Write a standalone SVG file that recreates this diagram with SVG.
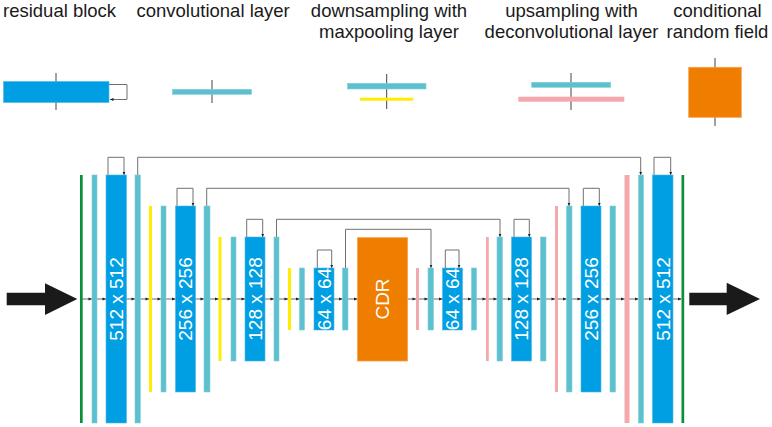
<svg xmlns="http://www.w3.org/2000/svg" width="772" height="427" viewBox="0 0 772 427">
<defs>
<marker id="ah" markerWidth="4" markerHeight="4" refX="3.5" refY="2" orient="auto" markerUnits="userSpaceOnUse">
<path d="M0,0.4 L3.5,2 L0,3.6 Z" fill="#222"/>
</marker>
</defs>
<style>
.t{font-family:"Liberation Sans",Arial,sans-serif;font-size:18.5px;fill:#1a1a1a}
.lbl{font-family:"Liberation Sans",Arial,sans-serif;font-size:19px;fill:#fff}
.res{fill:#009FE3;stroke:#4cb8ea;stroke-width:0.6}
.conv{fill:#5CC0CE;stroke:#7fcfda;stroke-width:0.6}
.yel{fill:#FFED00}
.pink{fill:#F4A8AE}
.grn{fill:#0A8F3C}
.crf{fill:#EF7D00;stroke:#f5a050;stroke-width:0.8}
.loop{fill:none;stroke:#707070;stroke-width:1}
.skip{fill:none;stroke:#707070;stroke-width:1}
.tick{stroke:#444;stroke-width:1}
.axis{stroke:#444;stroke-width:0.8}
</style>

<!-- Legend -->
<g id="legend-residual">
<text class="t" x="3" y="17">residual block</text>
<line class="tick" x1="56" y1="73" x2="56" y2="110"/>
<rect class="res" x="3.5" y="81.5" width="105.5" height="21"/>
<path class="loop" d="M109,84.5 H127 V99.5 H110" marker-end="url(#ah)"/>
</g>
<g id="legend-conv">
<text class="t" x="136.5" y="17">convolutional layer</text>
<line class="tick" x1="212" y1="80" x2="212" y2="103"/>
<rect class="conv" x="172.5" y="89.3" width="79" height="5"/>
</g>
<g id="legend-down">
<text class="t" x="389" y="17" text-anchor="middle">downsampling with</text>
<text class="t" x="389" y="38" text-anchor="middle">maxpooling layer</text>
<line class="tick" x1="386.7" y1="74" x2="386.7" y2="109"/>
<rect class="conv" x="347.5" y="83.3" width="78.5" height="5.7"/>
<rect class="yel" x="360" y="97.7" width="53.3" height="3"/>
</g>
<g id="legend-up">
<text class="t" x="571.5" y="17" text-anchor="middle">upsampling with</text>
<text class="t" x="571.5" y="38" text-anchor="middle">deconvolutional layer</text>
<line class="tick" x1="571" y1="73" x2="571" y2="110"/>
<rect class="conv" x="531.7" y="82.3" width="79" height="5"/>
<rect class="pink" x="518.3" y="96.7" width="106" height="5"/>
</g>
<g id="legend-crf">
<text class="t" x="717.5" y="17" text-anchor="middle">conditional</text>
<text class="t" x="717.5" y="38" text-anchor="middle">random field</text>
<line class="tick" x1="715" y1="58" x2="715" y2="126"/>
<rect class="crf" x="688.7" y="67.3" width="52.6" height="50"/>
</g>

<!-- Connectors -->
<g id="connectors">
<line class="axis" x1="82" y1="299" x2="681" y2="299"/>
<g fill="#222">
<path d="M92,299 l-3.5,-1.6 v3.2 Z"/>
<path d="M106,299 l-3.5,-1.6 v3.2 Z"/>
<path d="M135,299 l-3.5,-1.6 v3.2 Z"/>
<path d="M149,299 l-3.5,-1.6 v3.2 Z"/>
<path d="M161,299 l-3.5,-1.6 v3.2 Z"/>
<path d="M175.5,299 l-3.5,-1.6 v3.2 Z"/>
<path d="M204,299 l-3.5,-1.6 v3.2 Z"/>
<path d="M218.5,299 l-3.5,-1.6 v3.2 Z"/>
<path d="M231,299 l-3.5,-1.6 v3.2 Z"/>
<path d="M245,299 l-3.5,-1.6 v3.2 Z"/>
<path d="M274,299 l-3.5,-1.6 v3.2 Z"/>
<path d="M288,299 l-3.5,-1.6 v3.2 Z"/>
<path d="M299.5,299 l-3.5,-1.6 v3.2 Z"/>
<path d="M314,299 l-3.5,-1.6 v3.2 Z"/>
<path d="M342.5,299 l-3.5,-1.6 v3.2 Z"/>
<path d="M357.5,299 l-3.5,-1.6 v3.2 Z"/>
<path d="M416,299 l-3.5,-1.6 v3.2 Z"/>
<path d="M428,299 l-3.5,-1.6 v3.2 Z"/>
<path d="M442.5,299 l-3.5,-1.6 v3.2 Z"/>
<path d="M471.5,299 l-3.5,-1.6 v3.2 Z"/>
<path d="M486,299 l-3.5,-1.6 v3.2 Z"/>
<path d="M497,299 l-3.5,-1.6 v3.2 Z"/>
<path d="M511.5,299 l-3.5,-1.6 v3.2 Z"/>
<path d="M540.5,299 l-3.5,-1.6 v3.2 Z"/>
<path d="M555,299 l-3.5,-1.6 v3.2 Z"/>
<path d="M566.5,299 l-3.5,-1.6 v3.2 Z"/>
<path d="M581,299 l-3.5,-1.6 v3.2 Z"/>
<path d="M610,299 l-3.5,-1.6 v3.2 Z"/>
<path d="M624.5,299 l-3.5,-1.6 v3.2 Z"/>
<path d="M638.5,299 l-3.5,-1.6 v3.2 Z"/>
<path d="M652.5,299 l-3.5,-1.6 v3.2 Z"/>
<path d="M681.5,299 l-3.5,-1.6 v3.2 Z"/>
</g>
<!-- residual loops -->
<path class="loop" d="M108,175 V157.3 H124 V175" marker-end="url(#ah)"/>
<path class="loop" d="M177,206 V188.3 H193 V206" marker-end="url(#ah)"/>
<path class="loop" d="M246.7,237 V219.3 H262.7 V237" marker-end="url(#ah)"/>
<path class="loop" d="M317.3,268 V250 H331.7 V268" marker-end="url(#ah)"/>
<path class="loop" d="M445.3,268 V250 H459 V268" marker-end="url(#ah)"/>
<path class="loop" d="M514,237 V219.3 H529.3 V237" marker-end="url(#ah)"/>
<path class="loop" d="M583.3,206 V188.3 H599.3 V206" marker-end="url(#ah)"/>
<path class="loop" d="M654,175 V157.3 H670.7 V175" marker-end="url(#ah)"/>
<!-- skip connections -->
<path class="skip" d="M137.7,175 V157.3 H640.7 V175" marker-end="url(#ah)"/>
<path class="skip" d="M206.7,206 V188.3 H569 V206" marker-end="url(#ah)"/>
<path class="skip" d="M276.5,237 V219.3 H500 V237" marker-end="url(#ah)"/>
<path class="skip" d="M345.5,268 V229.3 H431 V268" marker-end="url(#ah)"/>
</g>

<!-- Input / output arrows -->
<g id="input-arrow">
<path d="M6.7,292.7 H45 V283.3 L77.3,299 L45,315 V305.3 H6.7 Z" fill="#1a1a1a"/>
</g>
<g id="output-arrow">
<path d="M689.3,292.7 H726.7 V282.7 L760,299 L726.7,315 V305.3 H689.3 Z" fill="#1a1a1a"/>
</g>

<!-- Encoder -->
<g id="in-green"><rect class="grn" x="80" y="175" width="2.7" height="248"/></g>
<g id="conv1"><rect class="conv" x="92" y="175" width="5" height="248"/></g>
<g id="res512a"><rect class="res" x="106" y="175" width="20.5" height="248"/><text class="lbl" transform="translate(123,299) rotate(-90)" text-anchor="middle">512 x 512</text></g>
<g id="conv2"><rect class="conv" x="135" y="175" width="5.3" height="248"/></g>
<g id="down1"><rect class="yel" x="149" y="206" width="3" height="186"/></g>
<g id="conv3"><rect class="conv" x="161" y="206" width="5" height="186"/></g>
<g id="res256a"><rect class="res" x="175.5" y="206" width="20" height="186"/><text class="lbl" transform="translate(192.2,299) rotate(-90)" text-anchor="middle">256 x 256</text></g>
<g id="conv4"><rect class="conv" x="204" y="206" width="6" height="186"/></g>
<g id="down2"><rect class="yel" x="218.5" y="237" width="3" height="124"/></g>
<g id="conv5"><rect class="conv" x="231" y="237" width="5" height="124"/></g>
<g id="res128a"><rect class="res" x="245" y="237" width="20" height="124"/><text class="lbl" transform="translate(261.7,299) rotate(-90)" text-anchor="middle">128 x 128</text></g>
<g id="conv6"><rect class="conv" x="274" y="237" width="5" height="124"/></g>
<g id="down3"><rect class="yel" x="288" y="268" width="3" height="62"/></g>
<g id="conv7"><rect class="conv" x="299.5" y="268" width="5" height="62"/></g>
<g id="res64a"><rect class="res" x="314" y="268" width="20" height="62"/><text class="lbl" transform="translate(330.7,299) rotate(-90)" text-anchor="middle">64 x 64</text></g>
<g id="conv8"><rect class="conv" x="342.5" y="268" width="5.5" height="62"/></g>

<!-- Bottleneck -->
<g id="cdr"><rect class="crf" x="357.5" y="237.7" width="50" height="123.3"/><text class="lbl" transform="translate(389,299) rotate(-90)" text-anchor="middle">CDR</text></g>

<!-- Decoder -->
<g id="up1"><rect class="pink" x="416" y="268" width="3" height="62"/></g>
<g id="conv9"><rect class="conv" x="428" y="268" width="5.5" height="62"/></g>
<g id="res64b"><rect class="res" x="442.5" y="268" width="20" height="62"/><text class="lbl" transform="translate(459.2,299) rotate(-90)" text-anchor="middle">64 x 64</text></g>
<g id="conv10"><rect class="conv" x="471.5" y="268" width="5" height="62"/></g>
<g id="up2"><rect class="pink" x="486" y="237" width="2.8" height="124"/></g>
<g id="conv11"><rect class="conv" x="497" y="237" width="5.5" height="124"/></g>
<g id="res128b"><rect class="res" x="511.5" y="237" width="20" height="124"/><text class="lbl" transform="translate(528.2,299) rotate(-90)" text-anchor="middle">128 x 128</text></g>
<g id="conv12"><rect class="conv" x="540.5" y="237" width="5.5" height="124"/></g>
<g id="up3"><rect class="pink" x="555" y="206" width="3" height="186"/></g>
<g id="conv13"><rect class="conv" x="566.5" y="206" width="5.5" height="186"/></g>
<g id="res256b"><rect class="res" x="581" y="206" width="20" height="186"/><text class="lbl" transform="translate(597.7,299) rotate(-90)" text-anchor="middle">256 x 256</text></g>
<g id="conv14"><rect class="conv" x="610" y="206" width="5.5" height="186"/></g>
<g id="up4"><rect class="pink" x="624.5" y="175" width="5" height="248"/></g>
<g id="conv15"><rect class="conv" x="638.5" y="175" width="5" height="248"/></g>
<g id="res512b"><rect class="res" x="652.5" y="175" width="20.5" height="248"/><text class="lbl" transform="translate(669.5,299) rotate(-90)" text-anchor="middle">512 x 512</text></g>
<g id="out-green"><rect class="grn" x="681.5" y="175" width="2.7" height="248"/></g>
</svg>
